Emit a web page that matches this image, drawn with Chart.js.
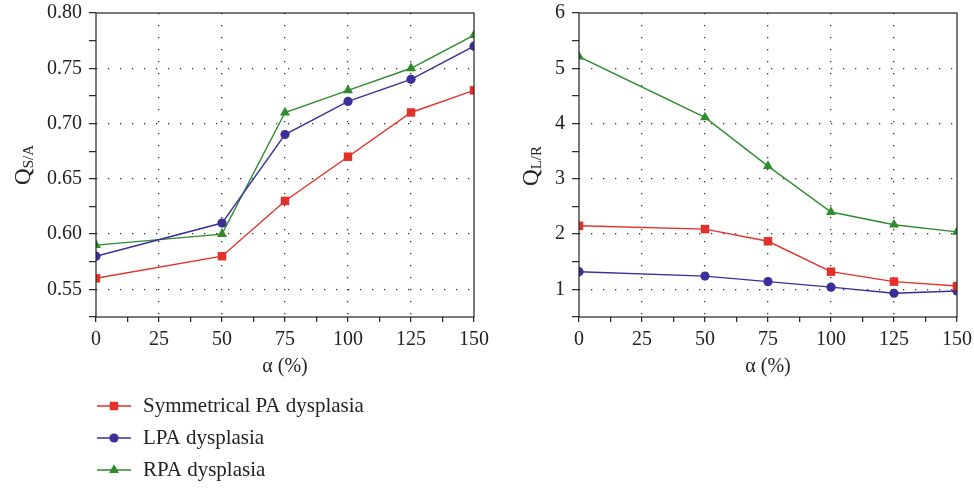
<!DOCTYPE html>
<html>
<head>
<meta charset="utf-8">
<script src="https://cdn.jsdelivr.net/npm/chart.js@4.4.1/dist/chart.umd.min.js"></script>
<style>
  body { margin: 0; background: #fff; }
  #wrap { position: relative; width: 974px; height: 488px; }
  #left { position: absolute; left: 0; top: 0; }
  #right { position: absolute; left: 490px; top: 0; }
</style>
</head>
<body>
<div id="wrap">
  <canvas id="left" width="490" height="488"></canvas>
  <canvas id="right" width="484" height="488"></canvas>
</div>
<script>
// x values (alpha, %)
const alpha = [0, 50, 75, 100, 125, 150];

const seriesNames = ["Symmetrical PA dysplasia", "LPA dysplasia", "RPA dysplasia"];

// left panel: Q_S/A
const qsaSymmetrical = [0.56, 0.58, 0.63, 0.67, 0.71, 0.73];
const qsaLPA = [0.58, 0.61, 0.69, 0.72, 0.74, 0.77];
const qsaRPA = [0.59, 0.60, 0.71, 0.73, 0.75, 0.78];

// right panel: Q_L/R
const qlrSymmetrical = [2.15, 2.09, 1.87, 1.32, 1.14, 1.06];
const qlrLPA = [1.32, 1.24, 1.14, 1.04, 0.93, 0.97];
const qlrRPA = [5.21, 4.11, 3.23, 2.40, 2.17, 2.04];

const colors = ["#e3312a", "#3b2f9a", "#2e8b2e"];
const styles = ["rect", "circle", "triangle"];
const radii = [6, 4.6, 5.8];

const FONT = "'Liberation Serif', 'DejaVu Serif', serif";

function makeDatasets(arrays) {
    return arrays.map((vals, i) => ({
        label: seriesNames[i],
        data: alpha.map((x, j) => ({ x: x, y: vals[j] })),
        borderColor: colors[i],
        backgroundColor: colors[i],
        borderWidth: 1.4,
        pointStyle: styles[i],
        pointRadius: radii[i],
        pointBorderWidth: 0,
        tension: 0,
        clip: 0
    }));
}

function isMultiple(v, step) {
    const r = v / step;
    return Math.abs(r - Math.round(r)) < 1e-6;
}

// frame + rotated y title with subscript
const framePlugin = {
    id: "frame",
    afterDraw(chart, args, opts) {
        const ctx = chart.ctx;
        const a = chart.chartArea;
        ctx.save();
        ctx.strokeStyle = "#222";
        ctx.lineWidth = 1.2;
        ctx.strokeRect(a.left, a.top, a.right - a.left, a.bottom - a.top);

        // y title
        ctx.translate(opts.titleX, opts.titleY);
        ctx.rotate(-Math.PI / 2);
        ctx.fillStyle = "#222";
        ctx.textBaseline = "alphabetic";
        ctx.font = "23px " + FONT;
        const qw = ctx.measureText("Q").width;
        ctx.font = "15px " + FONT;
        const sw = ctx.measureText(opts.sub).width;
        const total = qw + sw;
        ctx.font = "23px " + FONT;
        ctx.fillText("Q", -total / 2, 8);
        ctx.font = "15px " + FONT;
        ctx.fillText(opts.sub, -total / 2 + qw, 11);
        ctx.restore();

        // legend (left panel only)
        if (opts.legend) {
            const rows = [406, 438, 470];
            chart.data.datasets.forEach((ds, i) => {
                const y = rows[i];
                ctx.save();
                ctx.strokeStyle = ds.borderColor;
                ctx.lineWidth = 1.4;
                ctx.beginPath();
                ctx.moveTo(97, y);
                ctx.lineTo(131, y);
                ctx.stroke();
                ctx.fillStyle = ds.backgroundColor;
                Chart.helpers.drawPoint(ctx, {
                    pointStyle: ds.pointStyle,
                    radius: ds.pointRadius,
                    borderWidth: 0,
                    rotation: 0
                }, 114, y);
                ctx.fillStyle = "#222";
                ctx.font = "21px " + FONT;
                ctx.textBaseline = "middle";
                ctx.fillText(ds.label, 143, y);
                ctx.restore();
            });
        }
    }
};

function makeChart(id, arrays, yMin, yMax, yStep, yMajor, yDecimals, plotLeft, padRight, title) {
    return new Chart(document.getElementById(id), {
        type: "line",
        data: { datasets: makeDatasets(arrays) },
        plugins: [framePlugin],
        options: {
            responsive: false,
            animation: false,
            layout: { padding: { left: 0, top: 13, right: padRight, bottom: 488 - 317 - 62 } },
            plugins: {
                legend: { display: false },
                tooltip: { enabled: false },
                frame: title
            },
            scales: {
                x: {
                    type: "linear",
                    min: 0,
                    max: 150,
                    afterFit: s => { s.height = 62; s.paddingLeft = 0; s.paddingRight = 0; },
                    border: { display: false, dash: [1.3, 10.7] },
                    grid: {
                        color: c => (c.tick && isMultiple(c.tick.value, 25) && c.tick.value > 0 && c.tick.value < 150) ? "#333" : "rgba(0,0,0,0)",
                        lineWidth: 1.3,
                        tickColor: "#222",
                        tickLength: 5,
                        tickBorderDash: [],
                        tickWidth: 1.2
                    },
                    ticks: {
                        stepSize: 12.5,
                        autoSkip: false,
                        maxRotation: 0,
                        padding: 6,
                        color: "#222",
                        font: { family: FONT, size: 20 },
                        callback: v => isMultiple(v, 25) ? String(Math.round(v)) : ""
                    },
                    title: {
                        display: true,
                        text: "α (%)",
                        color: "#222",
                        font: { family: FONT, size: 20 },
                        padding: { top: 3, bottom: 0 }
                    }
                },
                y: {
                    type: "linear",
                    min: yMin,
                    max: yMax,
                    afterFit: s => { s.width = plotLeft; s.paddingTop = 0; s.paddingBottom = 0; },
                    border: { display: false, dash: [1.3, 10.7] },
                    grid: {
                        color: c => (c.tick && isMultiple(c.tick.value, yMajor) && c.tick.value < yMax - 1e-6) ? "#333" : "rgba(0,0,0,0)",
                        lineWidth: 1.3,
                        tickColor: "#222",
                        tickLength: 7,
                        tickBorderDash: [],
                        tickWidth: 1.2
                    },
                    ticks: {
                        stepSize: yStep,
                        autoSkip: false,
                        padding: 7,
                        color: "#222",
                        font: { family: FONT, size: 20 },
                        callback: v => isMultiple(v, yMajor) ? v.toFixed(yDecimals) : ""
                    }
                }
            }
        }
    });
}

makeChart("left", [qsaSymmetrical, qsaLPA, qsaRPA], 0.525, 0.80, 0.025, 0.05, 2, 96, 16,
    { sub: "S/A", titleX: 22, titleY: 165, legend: true });
makeChart("right", [qlrSymmetrical, qlrLPA, qlrRPA], 0.5, 6, 0.5, 1, 0, 89, 17,
    { sub: "L/R", titleX: 40, titleY: 166, legend: false });
</script>
</body>
</html>
